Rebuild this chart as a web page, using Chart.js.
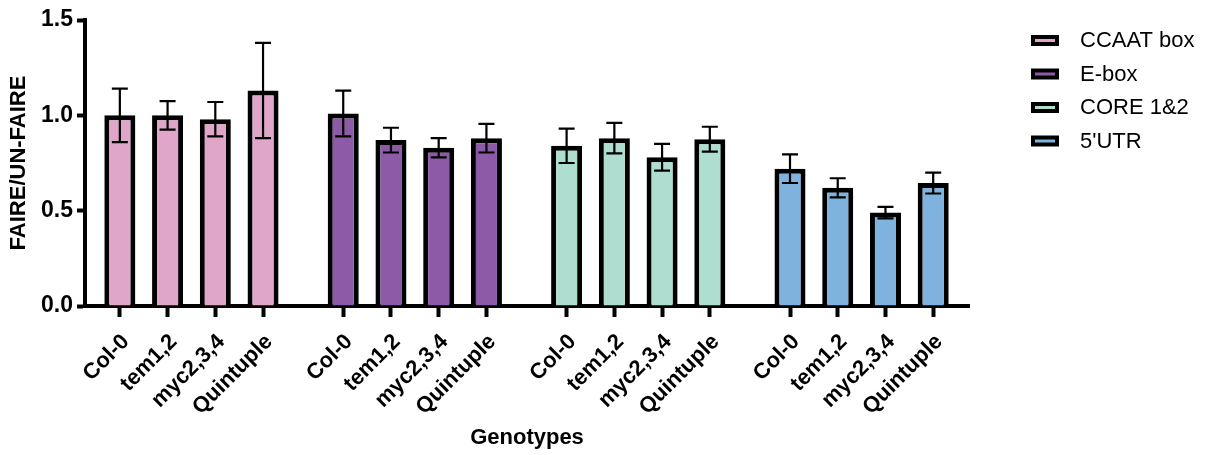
<!DOCTYPE html>
<html>
<head>
<meta charset="utf-8">
<script src="https://cdn.jsdelivr.net/npm/chart.js@4/dist/chart.umd.min.js"></script>
<style>
  html, body { margin: 0; padding: 0; background: #fff; }
  #wrap { width: 1212px; height: 455px; }
</style>
</head>
<body>
<div id="wrap"><canvas id="chart" width="1212" height="455"></canvas></div>
<script>
// data (mean and error half-width)
const regions = ['CCAAT box', 'E-box', 'CORE 1&2', "5'UTR"];
const genotypes = ['Col-0', 'tem1,2', 'myc2,3,4', 'Quintuple'];
const ccaatMean = [1.00, 1.00, 0.98, 1.13];
const ccaatErr = [0.14, 0.075, 0.09, 0.25];
const eboxMean = [1.01, 0.87, 0.83, 0.88];
const eboxErr = [0.12, 0.065, 0.05, 0.075];
const coreMean = [0.84, 0.88, 0.78, 0.875];
const coreErr = [0.09, 0.08, 0.07, 0.065];
const utrMean = [0.72, 0.62, 0.49, 0.645];
const utrErr = [0.075, 0.05, 0.03, 0.055];
const yTicks = [0, 0.5, 1.0, 1.5];

const colors = ['#dfa6ca', '#8c5aa7', '#aeded0', '#7fb2df'];
const means = [ccaatMean, eboxMean, coreMean, utrMean];
const errs = [ccaatErr, eboxErr, coreErr, utrErr];
const groupGap = 0.68;   // extra empty space between groups, in bar slots
const font = 'Arial, "Liberation Sans", sans-serif';

function slot(g, i) {
    return g * (genotypes.length + groupGap) + i;
}

const tickPos = [];
const tickText = [];
regions.forEach((r, g) => {
    genotypes.forEach((name, i) => {
        tickPos.push(slot(g, i));
        tickText.push(name);
    });
});

const datasets = regions.map((r, g) => ({
    label: r,
    data: means[g].map((v, i) => ({ x: slot(g, i), y: v })),
    errors: errs[g],
    backgroundColor: colors[g],
    borderColor: '#000',
    borderWidth: 5,
    grouped: false,
    barPercentage: 0.65,
    categoryPercentage: 1
}));

const errorBars = {
    id: 'errorBars',
    afterDatasetsDraw(chart) {
        const ctx = chart.ctx;
        const y = chart.scales.y;
        ctx.save();
        ctx.strokeStyle = '#000';
        ctx.lineWidth = 2.2;
        chart.data.datasets.forEach((ds, d) => {
            chart.getDatasetMeta(d).data.forEach((bar, i) => {
                const m = ds.data[i].y, e = ds.errors[i];
                const top = y.getPixelForValue(m + e);
                const bot = y.getPixelForValue(m - e);
                ctx.beginPath();
                ctx.moveTo(bar.x, top); ctx.lineTo(bar.x, bot);
                ctx.moveTo(bar.x - 8, top); ctx.lineTo(bar.x + 8, top);
                ctx.moveTo(bar.x - 8, bot); ctx.lineTo(bar.x + 8, bot);
                ctx.stroke();
            });
        });
        ctx.restore();
    }
};

const sideLegend = {
    id: 'sideLegend',
    afterDraw(chart) {
        const ctx = chart.ctx;
        ctx.save();
        ctx.font = '22px ' + font;
        ctx.textBaseline = 'middle';
        chart.data.datasets.forEach((ds, i) => {
            const cy = 41 + i * 33.5;
            ctx.fillStyle = ds.backgroundColor;
            ctx.fillRect(1033, cy - 4, 24, 7);
            ctx.strokeStyle = '#000';
            ctx.lineWidth = 4;
            ctx.strokeRect(1033, cy - 4, 24, 7);
            ctx.fillStyle = '#000';
            ctx.fillText(ds.label, 1080, cy);
        });
        ctx.restore();
    }
};

new Chart(document.getElementById('chart'), {
    type: 'bar',
    data: { datasets: datasets },
    options: {
        responsive: false,
        animation: false,
        layout: { padding: { top: 20, right: 243, left: 0, bottom: 0 } },
        plugins: { legend: { display: false }, tooltip: { enabled: false } },
        scales: {
            x: {
                type: 'linear',
                offset: false,
                min: -0.73,
                max: slot(regions.length - 1, genotypes.length - 1) + 0.75,
                afterBuildTicks: s => { s.ticks = tickPos.map(v => ({ value: v })); },
                afterFit: s => { s.height = 149; },
                grid: { display: true, drawOnChartArea: false, offset: false,
                        tickLength: 11, tickWidth: 4, tickColor: '#000' },
                border: { display: true, width: 4, color: '#000' },
                ticks: {
                    autoSkip: false,
                    minRotation: 45,
                    maxRotation: 45,
                    padding: 12,
                    labelOffset: 6,
                    color: '#000',
                    font: { family: font, size: 22, weight: 'bold' },
                    callback: (v, i) => tickText[i]
                },
                title: {
                    display: true,
                    text: 'Genotypes',
                    color: '#000',
                    padding: { top: 4, bottom: 4 },
                    font: { family: font, size: 22, weight: 'bold' }
                }
            },
            y: {
                min: 0,
                max: 1.5,
                afterBuildTicks: s => { s.ticks = yTicks.map(v => ({ value: v })); },
                afterFit: s => { s.width = 85; },
                grid: { display: true, drawOnChartArea: false,
                        tickLength: 8, tickWidth: 4, tickColor: '#000' },
                border: { display: true, width: 4, color: '#000' },
                ticks: {
                    padding: 4,
                    color: '#000',
                    font: { family: font, size: 23, weight: 'bold' },
                    callback: v => v.toFixed(1)
                },
                title: {
                    display: true,
                    text: 'FAIRE/UN-FAIRE',
                    color: '#000',
                    padding: { top: 6, bottom: 4 },
                    font: { family: font, size: 22, weight: 'bold' }
                }
            }
        }
    },
    plugins: [errorBars, sideLegend]
});
</script>
</body>
</html>
